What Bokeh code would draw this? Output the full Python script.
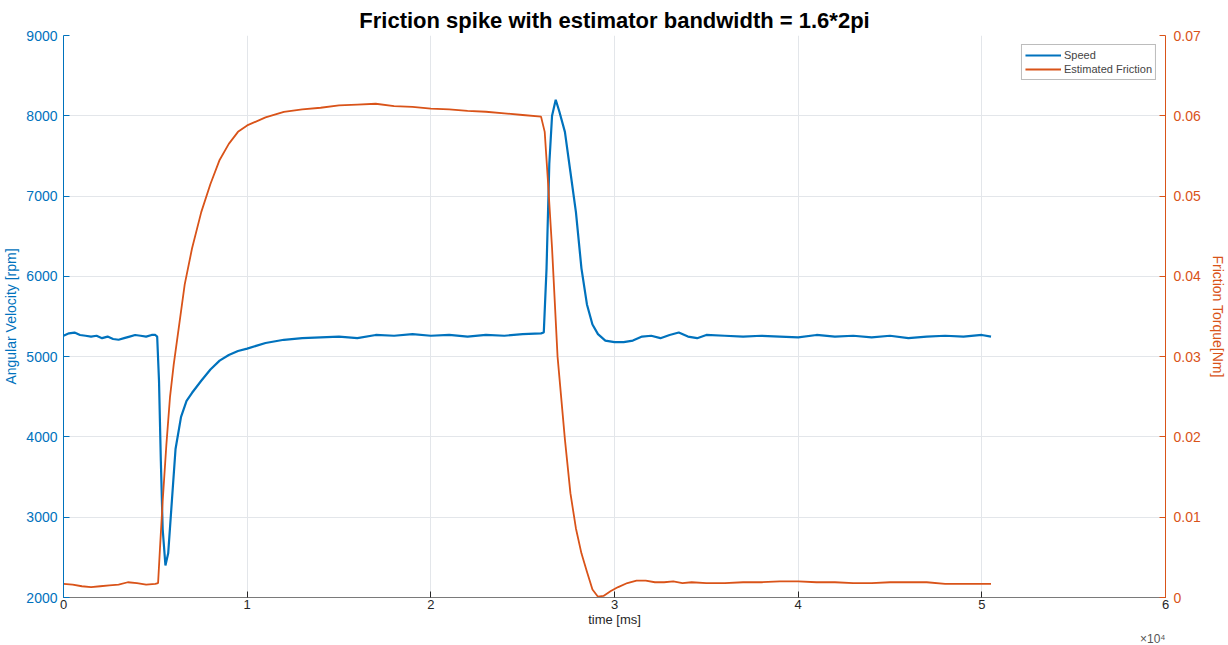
from bokeh.plotting import figure
from bokeh.models import Range1d, LinearAxis, FixedTicker, Title, Legend, LegendItem
from bokeh.embed import file_html
from bokeh.resources import INLINE

# ---- data ----
speed_t = [0, 300, 600, 900, 1200, 1500, 1800, 2100, 2400, 2700, 3000, 3300, 3600, 3900, 4200, 4500,
           4800, 5000, 5100, 5200, 5300, 5400, 5550, 5700, 5900, 6100, 6400, 6700, 7000, 7500, 8000,
           8500, 9000, 9500, 10000, 11000, 12000, 13000, 14000, 15000, 16000, 17000, 18000, 19000,
           20000, 21000, 22000, 23000, 24000, 25000, 26000, 26150, 26300, 26450, 26600, 26800,
           27000, 27300, 27600, 27900, 28200, 28500, 28800, 29100, 29500, 30000, 30500, 31000,
           31500, 32000, 32500, 33000, 33500, 34000, 34500, 35000, 36000, 37000, 38000, 39000,
           40000, 41000, 42000, 43000, 44000, 45000, 46000, 47000, 48000, 49000, 50000, 50500]
speed_rpm = [5260, 5290, 5300, 5270, 5260, 5250, 5260, 5230, 5250, 5220, 5210, 5230, 5250, 5270, 5260, 5250,
             5270, 5270, 5250, 4700, 3700, 2850, 2400, 2550, 3200, 3850, 4250, 4450, 4550, 4700, 4840,
             4950, 5020, 5070, 5100, 5170, 5210, 5230, 5240, 5250, 5230, 5270, 5260, 5280,
             5260, 5270, 5250, 5270, 5260, 5280, 5290, 5300, 6100, 7400, 8000, 8200,
             8050, 7800, 7300, 6800, 6100, 5650, 5400, 5280, 5200, 5180, 5180, 5200,
             5250, 5260, 5230, 5270, 5300, 5250, 5230, 5270, 5260, 5250, 5260, 5250,
             5240, 5270, 5250, 5260, 5240, 5260, 5230, 5250, 5260, 5250, 5270, 5250]

fric_t = [0, 500, 1000, 1500, 2000, 2500, 3000, 3500, 4000, 4500, 5000, 5150, 5250, 5400, 5600, 5800,
          6000, 6300, 6600, 7000, 7500, 8000, 8500, 9000, 9500, 10000, 11000, 12000, 13000, 14000,
          15000, 16000, 17000, 18000, 19000, 20000, 21000, 22000, 23000, 24000, 25000, 26000,
          26200, 26400, 26600, 26900, 27300, 27600, 27900, 28200, 28500, 28800, 29100, 29400,
          29800, 30200, 30700, 31200, 31700, 32200, 32700, 33200, 33700, 34200, 35000, 36000,
          37000, 38000, 39000, 40000, 41000, 42000, 43000, 44000, 45000, 46000, 47000, 48000,
          49000, 50000, 50500]
fric_nm = [0.0017, 0.0016, 0.0014, 0.0013, 0.0014, 0.0015, 0.0016, 0.0019, 0.0018, 0.0016, 0.0017, 0.0018,
           0.006, 0.012, 0.019, 0.025, 0.029, 0.034, 0.039, 0.0435, 0.048, 0.0515, 0.0545, 0.0565, 0.058,
           0.0588, 0.0598, 0.0605, 0.0608, 0.061, 0.0613, 0.0614, 0.0615, 0.0612, 0.0611, 0.0609, 0.0608,
           0.0606, 0.0605, 0.0603, 0.0601, 0.0599, 0.058, 0.051, 0.0435, 0.030, 0.0197, 0.013, 0.0086,
           0.0055, 0.0032, 0.001, 0.0001, 0.0002, 0.0008, 0.0013, 0.0018, 0.0021, 0.0021, 0.0019, 0.0019,
           0.002, 0.0018, 0.0019, 0.0018, 0.0018, 0.0019, 0.0019, 0.002, 0.002, 0.0019, 0.0019, 0.0018,
           0.0018, 0.0019, 0.0019, 0.0019, 0.0017, 0.0017, 0.0017, 0.0017]

x_ticks = [0, 10000, 20000, 30000, 40000, 50000, 60000]
x_tick_labels = ["0", "1", "2", "3", "4", "5", "6"]
left_ticks = [2000, 3000, 4000, 5000, 6000, 7000, 8000, 9000]
right_ticks = [0, 0.01, 0.02, 0.03, 0.04, 0.05, 0.06, 0.07]
right_tick_labels = ["0", "0.01", "0.02", "0.03", "0.04", "0.05", "0.06", "0.07"]

BLUE = "#0072BD"
ORANGE = "#D95319"
DARK = "#262626"
FONT = "Liberation Sans"

p = figure(width=1228, height=645, output_backend="svg", toolbar_location=None,
           x_range=Range1d(0, 60000), y_range=Range1d(2000, 9000),
           min_border_left=62, min_border_right=56, min_border_top=35, min_border_bottom=42,
           title="Friction spike with estimator bandwidth = 1.6*2pi")
p.extra_y_ranges = {"fric": Range1d(0, 0.07)}

p.title.text_font = FONT
p.title.text_font_size = "22px"
p.title.text_font_style = "bold"
p.title.text_color = "#000000"
p.title.align = "center"
p.title.standoff = 6

p.outline_line_color = None
p.background_fill_color = "white"
p.border_fill_color = "white"

# bottom axis
xa = p.xaxis[0]
xa.ticker = FixedTicker(ticks=x_ticks)
xa.major_label_overrides = {t: l for t, l in zip(x_ticks, x_tick_labels)}
xa.axis_label = "time [ms]"
xa.axis_label_text_font = FONT
xa.axis_label_text_font_style = "normal"
xa.axis_label_text_font_size = "13px"
xa.axis_label_text_color = DARK
xa.axis_label_standoff = 0
xa.major_label_text_font = FONT
xa.major_label_text_font_size = "13px"
xa.major_label_text_color = DARK
xa.major_label_standoff = 2
xa.axis_line_color = "#7a7a7a"
xa.major_tick_line_color = DARK
xa.major_tick_in = 6
xa.major_tick_out = 0
xa.minor_tick_line_color = None

# left axis
ya = p.yaxis[0]
ya.ticker = FixedTicker(ticks=left_ticks)
ya.axis_label = "Angular Velocity [rpm]"
ya.axis_label_text_font = FONT
ya.axis_label_text_font_style = "normal"
ya.axis_label_text_font_size = "14px"
ya.axis_label_text_color = BLUE
ya.axis_label_standoff = 4
ya.major_label_text_font = FONT
ya.major_label_text_font_size = "14px"
ya.major_label_text_color = BLUE
ya.major_label_standoff = 6
ya.axis_line_color = BLUE
ya.major_tick_line_color = BLUE
ya.major_tick_in = 6
ya.major_tick_out = 0
ya.minor_tick_line_color = None

# right axis
ra = LinearAxis(y_range_name="fric", ticker=FixedTicker(ticks=right_ticks))
ra.major_label_overrides = {t: l for t, l in zip(right_ticks, right_tick_labels)}
ra.axis_label = "Friction Torque[Nm]"
ra.axis_label_text_font = FONT
ra.axis_label_text_font_style = "normal"
ra.axis_label_text_font_size = "14px"
ra.axis_label_text_color = ORANGE
ra.axis_label_standoff = 6
ra.major_label_text_font = FONT
ra.major_label_text_font_size = "14px"
ra.major_label_text_color = ORANGE
ra.major_label_standoff = 8
ra.axis_line_color = ORANGE
ra.major_tick_line_color = ORANGE
ra.major_tick_in = 6
ra.major_tick_out = 0
ra.minor_tick_line_color = None
p.add_layout(ra, "right")

p.xgrid.grid_line_color = "#e3e6ea"
p.ygrid.grid_line_color = "#e3e6ea"

r_speed = p.line(speed_t, speed_rpm, line_color=BLUE, line_width=2.2)
r_fric = p.line(fric_t, fric_nm, line_color=ORANGE, line_width=1.8, y_range_name="fric")

legend = Legend(items=[LegendItem(label="Speed", renderers=[r_speed]),
                       LegendItem(label="Estimated Friction", renderers=[r_fric])],
                location="top_right")
legend.margin = 9
legend.padding = 3
legend.spacing = 0
legend.label_text_font = FONT
legend.label_text_font_size = "11px"
legend.label_height = 14
legend.glyph_height = 14
legend.glyph_width = 36
legend.label_standoff = 3
legend.border_line_color = "#7a7a7a"
legend.border_line_width = 1
legend.background_fill_alpha = 1
p.add_layout(legend)

p.add_layout(Title(text="×10⁴", align="right", standoff=0, text_font=FONT,
                   text_font_size="12px", text_font_style="normal", text_color="#555555"), "below")

open("out.html", "w").write(file_html(p, INLINE))
